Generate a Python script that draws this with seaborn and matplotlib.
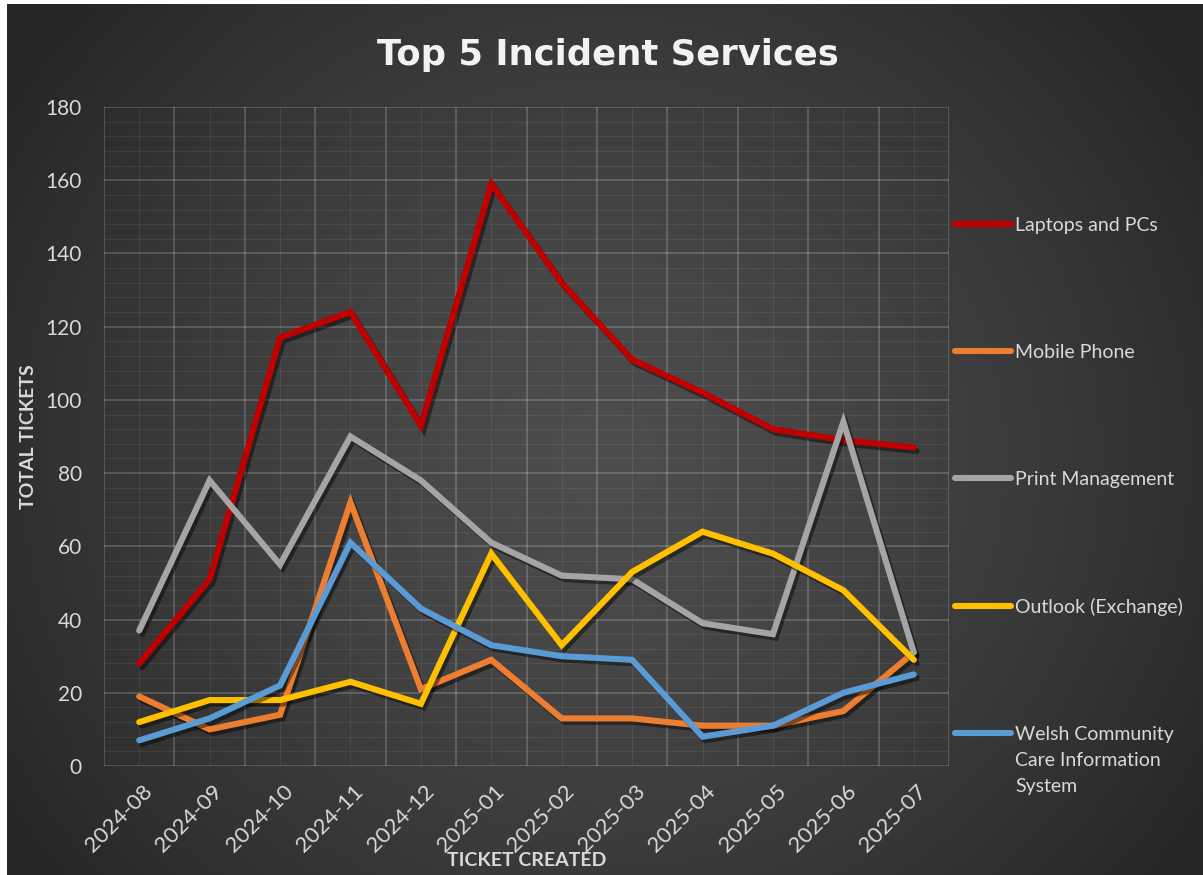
import numpy as np
import pandas as pd
import matplotlib
matplotlib.use("Agg")
import matplotlib.pyplot as plt
import matplotlib.patheffects as pe
from matplotlib.lines import Line2D
from matplotlib.ticker import MultipleLocator, FixedLocator
from matplotlib.transforms import ScaledTranslation
import seaborn as sns

# Monthly ticket counts per service
months = ["2024-08", "2024-09", "2024-10", "2024-11", "2024-12", "2025-01",
          "2025-02", "2025-03", "2025-04", "2025-05", "2025-06", "2025-07"]
laptops_pcs = [28, 51, 117, 124, 93, 159, 132, 111, 102, 92, 89, 87]
mobile_phone = [19, 10, 14, 72, 21, 29, 13, 13, 11, 11, 15, 31]
print_management = [37, 78, 55, 90, 78, 61, 52, 51, 39, 36, 94, 31]
outlook_exchange = [12, 18, 18, 23, 17, 58, 33, 53, 64, 58, 48, 29]
wccis = [7, 13, 22, 61, 43, 33, 30, 29, 8, 11, 20, 25]

services = ["Laptops and PCs", "Mobile Phone", "Print Management",
            "Outlook (Exchange)", "Welsh Community Care Information System"]
series = [laptops_pcs, mobile_phone, print_management, outlook_exchange, wccis]
colors = ["#C00000", "#ED7D31", "#A5A5A5", "#FFC000", "#5B9BD5"]

df = pd.DataFrame({
    "Month": months * len(services),
    "Service": np.repeat(services, len(months)),
    "Tickets": np.concatenate(series),
})

sns.set_theme(style="dark")
plt.rcParams["font.family"] = ["Lato", "DejaVu Sans"]

TXT = "#d9d9d9"
W_PX, H_PX = 1203, 875
fig = plt.figure(figsize=(W_PX / 100, H_PX / 100), dpi=100, facecolor="white")

# dark radial backdrop
bg = fig.add_axes([7 / W_PX, 0, 1 - 7 / W_PX, 1 - 4 / H_PX], zorder=-5)
h, w = 871, 1196
yy, xx = np.mgrid[0:h, 0:w]
r = np.sqrt(((xx - 0.50 * w) / (0.60 * w)) ** 2 + ((yy - 0.52 * h) / (0.78 * h)) ** 2)
v = 0x4d - (0x4d - 0x26) * np.clip(r, 0, 1) ** 1.4
bg.imshow(np.dstack([v, v, v]) / 255.0, aspect="auto", interpolation="bilinear")
bg.set_axis_off()

ax = fig.add_axes([104 / W_PX, (H_PX - 766) / H_PX, 845 / W_PX, 659 / H_PX])
ax.set_facecolor("none")

sns.lineplot(data=df, x="Month", y="Tickets", hue="Service", hue_order=services,
             palette=colors, sort=False, linewidth=4.4, legend=False, ax=ax)

for line in ax.lines:
    line.set_solid_capstyle("round")
    line.set_solid_joinstyle("miter")
    line.set_path_effects([pe.SimpleLineShadow(offset=(2, -2.5), shadow_color="black", alpha=0.45),
                           pe.Normal()])

ax.set_xlim(-0.5, len(months) - 0.5)
ax.set_ylim(0, 180)
ax.yaxis.set_major_locator(MultipleLocator(20))
ax.yaxis.set_minor_locator(MultipleLocator(4))
ax.set_xticks(range(len(months)))
ax.set_xticklabels(months, rotation=45, ha="right", va="center", rotation_mode="anchor")
ax.xaxis.set_minor_locator(FixedLocator(np.arange(-0.5, len(months), 1.0)))

ax.grid(which="major", axis="y", color="#ffffff", alpha=0.22, linewidth=1.1)
ax.grid(which="minor", axis="y", color="#ffffff", alpha=0.07, linewidth=0.8)
ax.grid(which="minor", axis="x", color="#ffffff", alpha=0.22, linewidth=1.1)
ax.grid(which="major", axis="x", color="#ffffff", alpha=0.07, linewidth=0.8)
ax.set_axisbelow(True)
for s in ax.spines.values():
    s.set_visible(False)

ax.tick_params(axis="both", which="both", length=0, colors=TXT, labelsize=15)
ax.tick_params(axis="x", labelsize=16)
ax.tick_params(axis="y", pad=16)
ax.tick_params(axis="x", pad=16)
for t in ax.xaxis.get_major_ticks():
    t.label1.set_transform(t.label1.get_transform() + ScaledTranslation(10 / 100, 0, fig.dpi_scale_trans))

ax.set_xlabel("TICKET CREATED", color=TXT, fontsize=14, fontweight="bold", va="center")
ax.xaxis.set_label_coords(0.5, (766 - 861) / 659)
ax.set_ylabel("TOTAL TICKETS", color=TXT, fontsize=14, fontweight="bold", va="center")
ax.yaxis.set_label_coords((29 - 104) / 845, 0.5)

fig.text(608 / W_PX, (H_PX - 55) / H_PX, "Top 5 Incident Services", color="#f2f2f2",
         fontsize=25.5, fontweight="bold", ha="center", va="center",
         family=["DejaVu Sans"])

# legend on the right
legend_labels = services[:-1] + ["Welsh Community"]
handles = [Line2D([], [], color=c, linewidth=4.4, solid_capstyle="round") for c in colors]
leg = fig.legend(handles, legend_labels, loc="upper left",
                 bbox_to_anchor=(955 / W_PX, (H_PX - 217) / H_PX),
                 frameon=False, fontsize=14, labelcolor=TXT, handlelength=2.9,
                 handletextpad=0.2, labelspacing=5.66, borderpad=0, borderaxespad=0)

# remaining lines of the wrapped last legend label
fig.canvas.draw()
bb = leg.get_texts()[-1].get_window_extent()
yc = 0.5 * (bb.y0 + bb.y1)
for i, part in enumerate(["Care Information", "System"], start=1):
    fig.text(bb.x0 / W_PX, (yc - 26 * i) / H_PX, part, color=TXT, fontsize=14,
             ha="left", va="center")

fig.savefig("out.png", dpi=100, facecolor=fig.get_facecolor())
